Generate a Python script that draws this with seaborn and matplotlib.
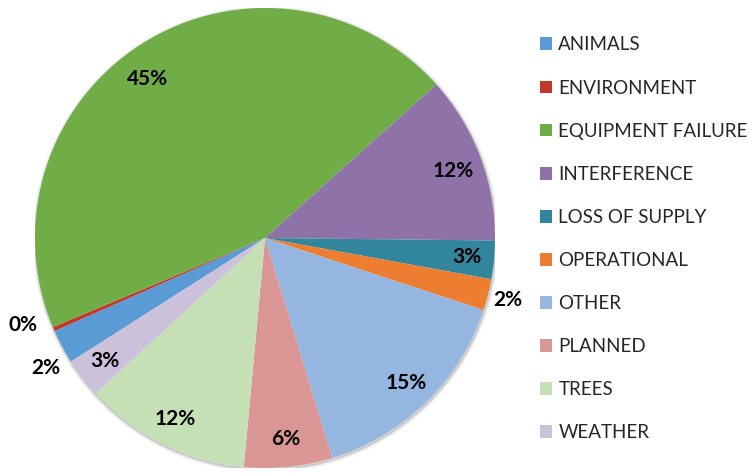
import numpy as np
import matplotlib
matplotlib.use("Agg")
import matplotlib.pyplot as plt
from matplotlib.patches import Circle
import seaborn as sns

categories = ["ANIMALS", "ENVIRONMENT", "EQUIPMENT FAILURE", "INTERFERENCE",
              "LOSS OF SUPPLY", "OPERATIONAL", "OTHER", "PLANNED", "TREES", "WEATHER"]
values = [2.4, 0.3, 44.7, 11.8, 2.7, 2.2, 15.2, 6.2, 11.7, 2.8]
colors = ["#5B9BD5", "#C0392B", "#70AD47", "#8E72A8", "#31859C",
          "#ED7D31", "#94B6E0", "#D99694", "#C5E0B4", "#CCC1DA"]
# label placement: (radius factor, angle nudge in degrees)
placement = {"ENVIRONMENT": (1.12, -3.5), "ANIMALS": (1.11, 2.5), "OPERATIONAL": (1.09, 0.0),
             "EQUIPMENT FAILURE": (0.86, 4.0), "INTERFERENCE": (0.87, -1.0)}

sns.set_theme(style="white")
plt.rcParams["font.family"] = ["Lato", "DejaVu Sans"]

W, H = 754, 474
fig = plt.figure(figsize=(W / 100, H / 100), dpi=100)
cx, cy, R = 265, 238, 230
ax = fig.add_axes([(cx - R) / W, (H - cy - R) / H, 2 * R / W, 2 * R / H])

# soft shadow ring behind the pie
for lw, a in [(5, 0.06), (3, 0.10), (1.5, 0.18)]:
    ax.add_patch(Circle((0.003, -0.006), 1.0, facecolor="none", edgecolor="#555555",
                        linewidth=lw, alpha=a, zorder=0))

wedges, texts, autotexts = ax.pie(
    values, colors=colors, startangle=212.5, counterclock=False,
    autopct=lambda p: f"{p:.0f}%", pctdistance=0.88,
    wedgeprops=dict(linewidth=0, zorder=1),
    textprops=dict(fontsize=15, fontweight="bold", color="black"))

for w, t, name in zip(wedges, autotexts, categories):
    r, nudge = placement.get(name, (0.88, 0.0))
    mid = np.deg2rad((w.theta1 + w.theta2) / 2 + nudge)
    t.set_position((r * np.cos(mid), r * np.sin(mid)))
    t.set_ha("center")
    t.set_va("center")
    t.set_zorder(3)

ax.set_xlim(-1, 1)
ax.set_ylim(-1, 1)
ax.set_aspect("auto")

leg = fig.legend(wedges, categories, loc="upper left",
                 bbox_to_anchor=(532 / W, 1 - 29 / H), frameon=False,
                 fontsize=13.5, handlelength=0.68, handleheight=0.68,
                 handletextpad=0.33, labelspacing=1.39, borderaxespad=0)

fig.savefig("out.png", dpi=100)
